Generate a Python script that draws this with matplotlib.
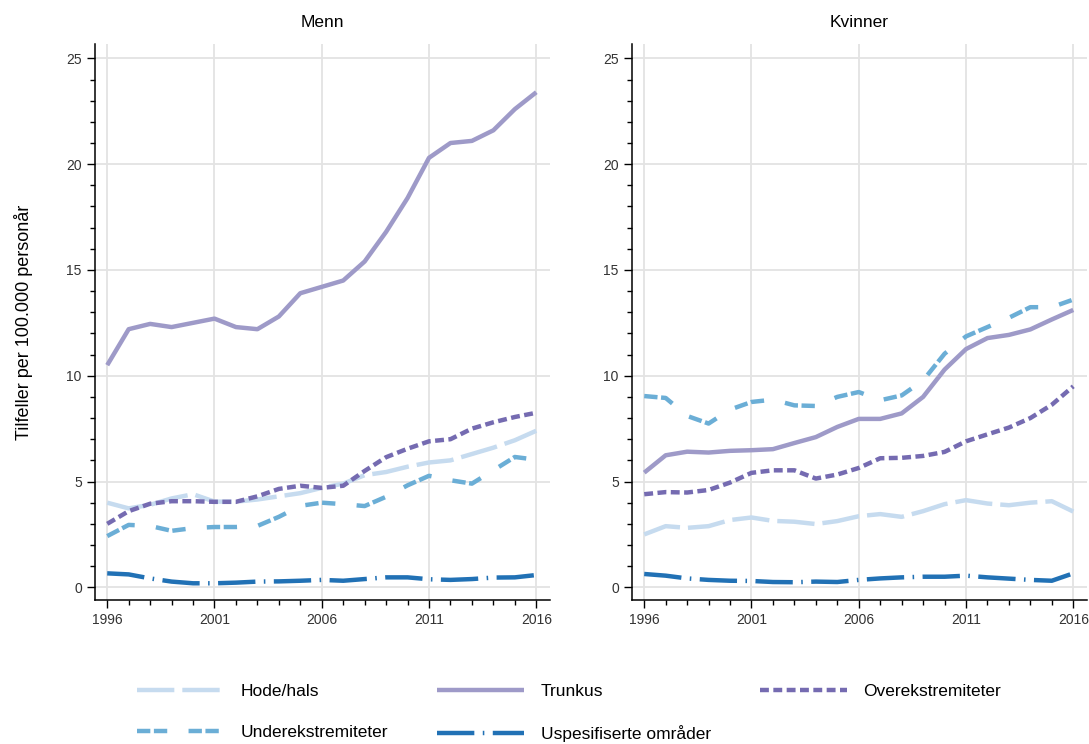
import numpy as np
import matplotlib.pyplot as plt
from matplotlib.ticker import MultipleLocator

years = list(range(1996, 2017))

# Menn
menn_hode = [4.0, 3.73, 3.9, 4.2, 4.4, 4.05, 4.05, 4.15, 4.3, 4.45, 4.7,
             4.9, 5.3, 5.45, 5.7, 5.9, 6.0, 6.3, 6.6, 6.95, 7.4]
menn_trunkus = [10.5, 12.2, 12.45, 12.3, 12.5, 12.7, 12.3, 12.2, 12.8, 13.9, 14.2,
                14.5, 15.4, 16.8, 18.4, 20.3, 21.0, 21.1, 21.6, 22.6, 23.4]
menn_over = [3.0, 3.6, 3.95, 4.07, 4.07, 4.04, 4.04, 4.3, 4.65, 4.8, 4.7,
             4.8, 5.5, 6.15, 6.55, 6.9, 7.0, 7.5, 7.8, 8.05, 8.25]
menn_under = [2.42, 2.95, 2.9, 2.67, 2.8, 2.85, 2.85, 2.9, 3.33, 3.85, 4.0,
              3.93, 3.84, 4.28, 4.82, 5.27, 5.06, 4.9, 5.53, 6.16, 6.03]
menn_uspes = [0.66, 0.61, 0.42, 0.27, 0.19, 0.19, 0.22, 0.27, 0.28, 0.31, 0.35,
              0.31, 0.39, 0.47, 0.47, 0.38, 0.35, 0.39, 0.46, 0.47, 0.58]

# Kvinner
kv_hode = [2.5, 2.89, 2.81, 2.89, 3.18, 3.3, 3.14, 3.1, 2.99, 3.13, 3.36,
           3.46, 3.33, 3.6, 3.93, 4.12, 3.96, 3.88, 4.0, 4.07, 3.58]
kv_trunkus = [5.42, 6.24, 6.41, 6.37, 6.45, 6.48, 6.53, 6.82, 7.1, 7.58, 7.96,
              7.96, 8.22, 9.0, 10.29, 11.26, 11.78, 11.93, 12.19, 12.66, 13.11]
kv_over = [4.4, 4.5, 4.48, 4.6, 4.95, 5.41, 5.53, 5.53, 5.14, 5.33, 5.64,
           6.1, 6.12, 6.21, 6.4, 6.9, 7.23, 7.55, 8.0, 8.63, 9.5]
kv_under = [9.04, 8.95, 8.1, 7.74, 8.4, 8.76, 8.87, 8.6, 8.57, 9.0, 9.23,
            8.84, 9.07, 9.78, 11.04, 11.86, 12.3, 12.74, 13.24, 13.24, 13.6]
kv_uspes = [0.63, 0.55, 0.42, 0.35, 0.31, 0.3, 0.25, 0.24, 0.27, 0.25, 0.35,
            0.42, 0.47, 0.5, 0.5, 0.55, 0.47, 0.41, 0.35, 0.31, 0.66]

labels = ["Hode/hals", "Trunkus", "Overekstremiteter",
          "Underekstremiteter", "Uspesifiserte områder"]
colors = ["#c6dbef", "#9e9ac8", "#756bb1", "#6baed6", "#2171b5"]
dashes = [(8.4, 1.8), (), (2, 1), (3, 0.8, 3, 4.8), (8.4, 1.9, 0.35, 1.9)]

plt.rcParams['font.family'] = ['Liberation Sans', 'DejaVu Sans']

fig = plt.figure(figsize=(10.89, 7.44), dpi=100)
ax1 = fig.add_axes([95/1089, 1 - 600/744, 455/1089, 556/744])
ax2 = fig.add_axes([632/1089, 1 - 600/744, 455/1089, 556/744])

panels = [
    (ax1, "Menn", [menn_hode, menn_trunkus, menn_over, menn_under, menn_uspes]),
    (ax2, "Kvinner", [kv_hode, kv_trunkus, kv_over, kv_under, kv_uspes]),
]

handles = []
for ax, title, series in panels:
    hs = []
    for vals, lab, col, d in zip(series, labels, colors, dashes):
        ln, = ax.plot(years, vals, color=col, lw=3.2, label=lab,
                      solid_capstyle='butt', dash_capstyle='butt')
        if d:
            ln.set_dashes(d)
        hs.append(ln)
    handles = hs
    ax.set_xlim(1995.43, 2016.64)
    ax.set_ylim(-0.6, 25.68)
    ax.set_xticks(years[::5])
    ax.set_xticks(years, minor=True)
    ax.yaxis.set_major_locator(MultipleLocator(5))
    ax.yaxis.set_minor_locator(MultipleLocator(1))
    ax.grid(True, which='major', color='#e3e3e3', lw=1.3)
    ax.set_axisbelow(True)
    for s in ['top', 'right']:
        ax.spines[s].set_visible(False)
    for s in ['left', 'bottom']:
        ax.spines[s].set_linewidth(1.1)
    ax.tick_params(which='major', length=6, width=1, labelsize=10,
                   labelcolor='#333333', direction='out')
    ax.tick_params(which='minor', length=3.5, width=1, direction='out')
    ax.set_title(title, fontsize=12.5, pad=12)

ax1.set_ylabel("Tilfeller per 100.000 personår", fontsize=13, labelpad=24)

# matplotlib fills legend columns first, so reorder to get row-wise layout
order = [0, 3, 1, 4, 2]
fig.legend([handles[i] for i in order], [labels[i] for i in order],
           ncol=3, loc='upper left', bbox_to_anchor=(137/1089, 1 - 684/744),
           frameon=False, fontsize=12.5, handlelength=5.0, handletextpad=0.95,
           columnspacing=2.85, labelspacing=1.5, borderpad=0, borderaxespad=0)

fig.savefig("out.png", dpi=100)
